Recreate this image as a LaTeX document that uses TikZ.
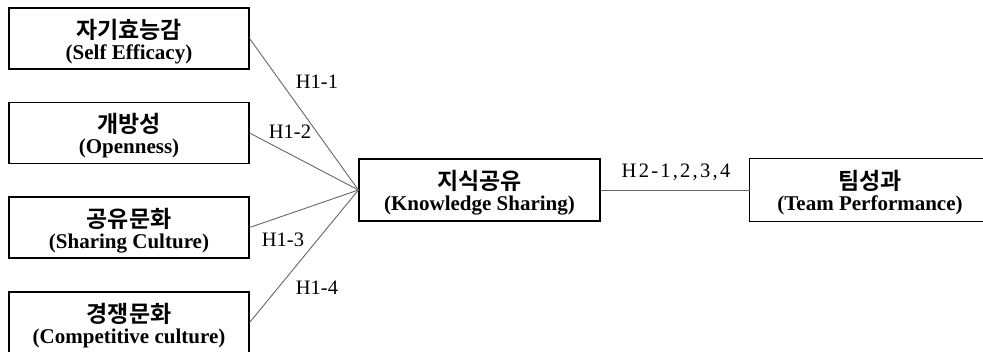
\documentclass[tikz,border=0pt]{standalone}
\usepackage{fontspec}
\setmainfont{Liberation Serif}
\newfontfamily\kr{Noto Sans CJK KR}[BoldFont={Noto Sans CJK KR Bold}]
\begin{document}
\begin{tikzpicture}[x=1pt,y=-1pt]
\useasboundingbox (0,0) rectangle (983,351);
\tikzset{
  box/.style={draw, line width=1.2pt, inner sep=0pt, minimum width=240pt, minimum height=61pt},
  krt/.style={inner sep=0pt, font=\kr\bfseries\fontsize{23}{24}\selectfont},
  ent/.style={inner sep=0pt, font=\bfseries\fontsize{21}{24}\selectfont},
  conn/.style={draw=black!60, line width=0.9pt},
  lab/.style={font=\fontsize{20.5}{24}\selectfont, inner sep=0pt}
}
\node[box] (b1) at (129,38.5) {};
\node[box] (b2) at (129,133) {};
\node[box] (b3) at (129,227.5) {};
\node[box] (b4) at (129,322.5) {};
\node[box, minimum width=241pt, minimum height=62pt] (ks) at (479.5,190) {};
\node[minimum width=240pt, minimum height=62pt, inner sep=0pt] (tp) at (870,190) {};
\draw[line width=1.2pt] ([xshift=30pt]tp.north east) -- (tp.north west) -- (tp.south west) -- ([xshift=30pt]tp.south east);

\node[krt] (k1) at ([yshift=-22pt]b1.north) {자기효능감};
\node[ent] (e1) at ([yshift=-47pt]b1.north) {(Self Efficacy)};
\node[krt] (k2) at ([yshift=-22pt]b2.north) {개방성};
\node[ent] (e2) at ([yshift=-47pt]b2.north) {(Openness)};
\node[krt] (k3) at ([yshift=-22pt]b3.north) {공유문화};
\node[ent] (e3) at ([yshift=-47pt]b3.north) {(Sharing Culture)};
\node[krt] (k4) at ([yshift=-22pt]b4.north) {경쟁문화};
\node[ent] (e4) at ([yshift=-47pt]b4.north) {(Competitive culture)};
\node[krt] (k5) at ([yshift=-22pt]ks.north) {지식공유};
\node[ent] (e5) at ([yshift=-47pt]ks.north) {(Knowledge Sharing)};
\node[krt] (k6) at ([yshift=-22pt]tp.north) {팀성과};
\node[ent] (e6) at ([yshift=-47pt]tp.north) {(Team Performance)};

\draw[conn] (b1.east) -- (ks.west);
\draw[conn] (b2.east) -- (ks.west);
\draw[conn] (b3.east) -- (ks.west);
\draw[conn] (b4.east) -- (ks.west);
\draw[conn] (ks.east) -- (tp.west);
\node[lab] (l1) at (317,82) {H1-1};
\node[lab] (l2) at (290,132) {H1-2};
\node[lab] (l3) at (283,240) {H1-3};
\node[lab] (l4) at (317,288) {H1-4};
\node[lab, font=\fontsize{20.5}{24}\selectfont\addfontfeature{LetterSpace=11}] (l5) at (676,172) {H2-1,2,3,4};
\end{tikzpicture}
\end{document}
